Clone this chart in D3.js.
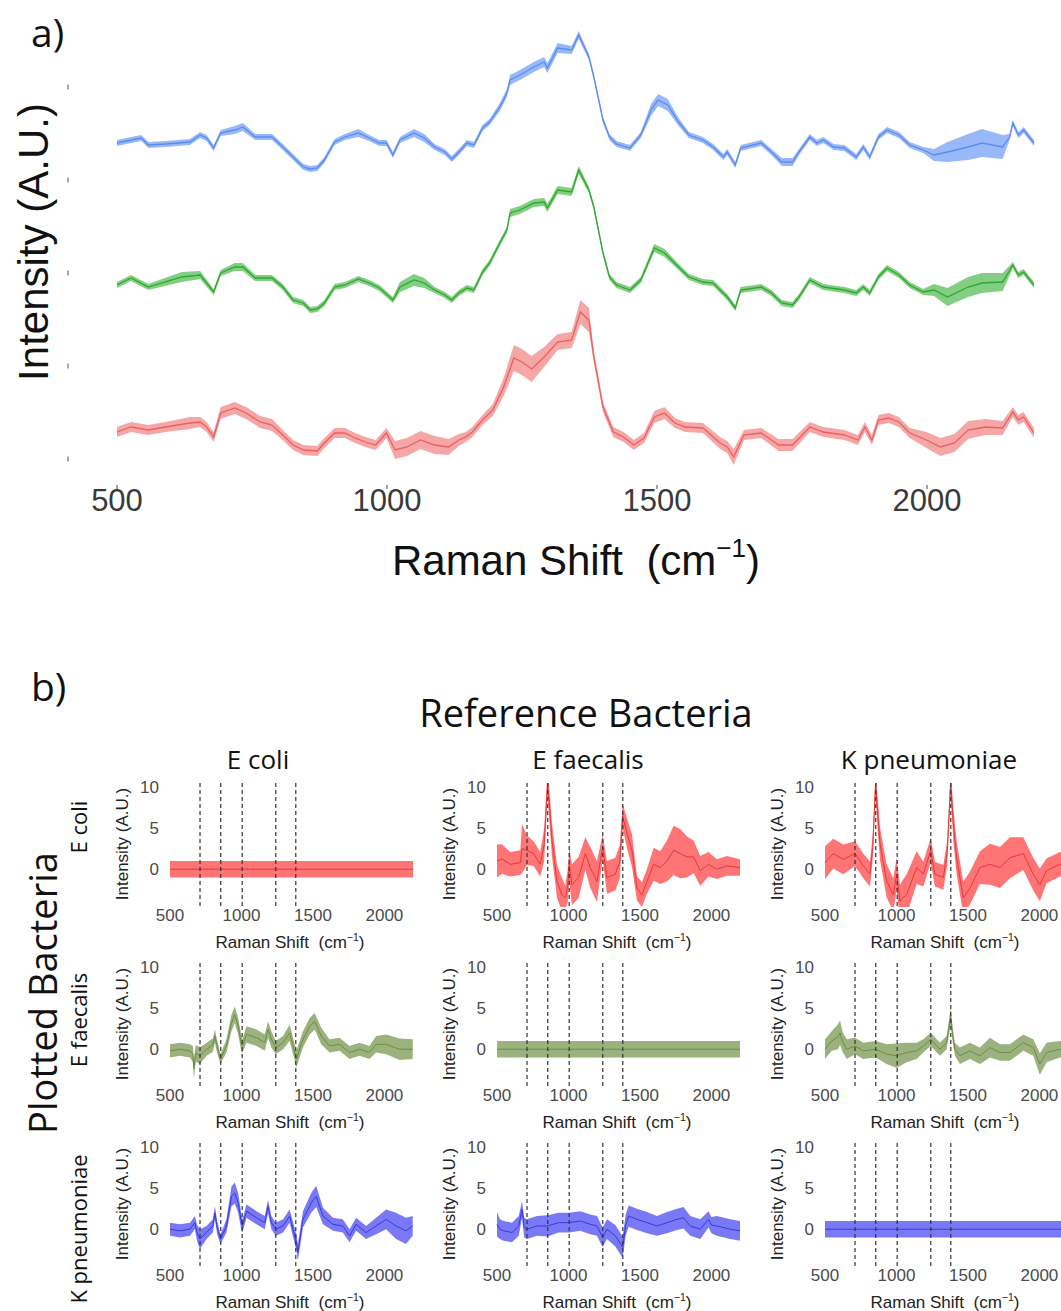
<!DOCTYPE html>
<html>
<head>
<meta charset="utf-8">
<script src="https://cdn.jsdelivr.net/npm/d3@7"></script>
<style>
  body { margin: 0; background: #fff; }
  svg { display: block; }
</style>
</head>
<body>
<svg id="chart" width="1061" height="1311"></svg>
<script>
// ---------- data ----------
// panel a: [raman shift, mean intensity (A.U.), half band width]
var kpnMean = [[500,316,3],[526,319,3],[545,321,3],[558,314,3],[590,315,3],[635,317,3],[654,324,3],[666,321,3],[679,311,3],[692,326,3],[718,329,4],[733,332,4],[756,322,3],[787,322,3],[807,312,3],[826,302,3],[845,292,3],[858,290,3],[871,291,3],[884,299,3],[903,317,3],[922,322,3],[947,326,4],[967,321,3],[986,316,3],[999,316,3],[1011,304,3],[1024,319,3],[1050,326,4],[1069,321,4],[1088,312,3],[1107,307,3],[1120,300,3],[1133,307,3],[1148,316,3],[1161,314,3],[1177,331,3],[1190,337,3],[1209,352,4],[1222,366,4],[1228,379,5],[1246,384,5],[1272,392,5],[1291,397,5],[1297,391,5],[1316,411,5],[1342,409,4],[1355,424,4],[1374,402,3],[1383,382,3],[1400,339,3],[1412,322,3],[1425,315,3],[1450,311,3],[1470,324,3],[1489,349,6],[1502,359,6],[1520,354,6],[1540,337,4],[1559,324,3],[1585,319,3],[1604,312,3],[1623,302,3],[1630,307,3],[1645,294,3],[1655,311,3],[1693,316,3],[1712,307,3],[1731,297,4],[1751,297,4],[1763,307,3],[1783,322,3],[1796,316,3],[1808,319,3],[1827,312,3],[1847,311,3],[1869,302,3],[1882,312,3],[1894,302,3],[1910,322,3],[1926,329,3],[1948,324,3],[1968,314,3],[1993,309,3],[2013,304,6],[2038,307,10],[2076,312,13],[2102,316,14],[2140,312,12],[2153,322,3],[2159,336,3],[2169,324,3],[2179,329,3],[2198,316,3]];

var faeMean = [[500,174,3],[526,181,3],[558,172,3],[620,182,5],[654,184,4],[679,167,3],[692,186,3],[718,192,4],[733,192,4],[756,181,3],[787,181,3],[807,172,3],[826,159,3],[845,156,3],[858,149,3],[871,150,3],[884,156,3],[903,172,3],[922,174,3],[947,180,3],[967,176,3],[986,171,3],[1011,159,3],[1024,172,5],[1050,179,6],[1069,176,5],[1088,169,3],[1107,164,3],[1120,159,3],[1133,166,3],[1148,171,3],[1161,169,3],[1177,187,3],[1190,196,3],[1209,216,3],[1222,229,3],[1228,246,4],[1246,249,4],[1272,256,4],[1291,257,4],[1297,251,4],[1316,269,4],[1342,267,4],[1355,289,4],[1374,269,3],[1383,252,3],[1400,206,3],[1412,182,3],[1425,174,3],[1450,169,3],[1470,179,3],[1495,211,4],[1514,206,4],[1540,192,3],[1559,182,3],[1585,177,3],[1604,176,3],[1630,162,3],[1645,151,3],[1655,169,3],[1693,172,3],[1712,166,3],[1731,156,3],[1751,154,3],[1763,162,3],[1783,179,3],[1808,172,3],[1847,169,3],[1869,166,3],[1882,172,3],[1894,166,3],[1910,182,3],[1926,191,3],[1948,184,3],[1968,174,3],[1993,167,3],[2013,169,6],[2038,162,9],[2076,172,10],[2102,176,10],[2140,177,9],[2159,194,3],[2169,184,3],[2179,187,3],[2198,174,3]];

var ecoMean = [[500,27,5],[526,32,5],[558,29,5],[590,32,5],[635,36,6],[654,37,5],[666,32,5],[679,22,5],[692,46,6],[718,51,6],[739,46,6],[765,37,6],[787,34,6],[807,24,5],[826,14,5],[845,9,5],[871,8,5],[884,16,5],[903,26,5],[922,26,5],[941,21,5],[960,17,5],[979,14,5],[999,26,5],[1015,9,9],[1037,12,9],[1062,19,9],[1088,14,9],[1114,12,8],[1133,19,6],[1146,22,5],[1158,27,5],[1177,39,5],[1196,49,6],[1216,72,9],[1235,101,13],[1250,97,13],[1268,90,13],[1291,102,10],[1316,117,8],[1342,119,8],[1358,147,12],[1374,139,12],[1383,102,6],[1400,52,5],[1419,27,5],[1438,22,5],[1457,14,5],[1476,21,5],[1495,42,6],[1514,46,6],[1533,36,5],[1552,32,5],[1585,31,5],[1617,16,6],[1630,12,6],[1642,2,8],[1661,24,5],[1693,26,5],[1725,14,6],[1751,14,6],[1783,32,5],[1808,27,5],[1847,24,5],[1872,19,5],[1885,32,5],[1898,19,5],[1910,39,5],[1929,41,5],[1948,37,5],[1968,26,5],[1999,19,8],[2025,12,9],[2051,16,9],[2076,29,9],[2108,32,8],[2140,31,7],[2159,47,5],[2169,39,5],[2179,42,5],[2198,26,5]];

var topXTicks = [500, 1000, 1500, 2000];
var topYTicks = [0, 93, 186, 279, 372];

// panel b: [raman shift, mean difference, half band width]
var flatSpectrum = [[500,0,1],[2200,0,1]];

var ecoVsFae = [[500,1.0,2.0],[535,1.25,1.8],[593,0.6,1.5],[663,0.8,1.5],[675,2.5,3.0],[710,2.3,1.8],[756,1.9,1.5],[803,0.6,1.5],[830,3.0,2.0],[854,10.6,1.5],[870,7.0,2.0],[885,3.5,2.0],[920,-1.5,2.0],[955,-3.1,2.0],[978,-3.5,1.5],[995,-2.0,2.0],[1006,0.6,2.0],[1024,-1.9,2.5],[1071,-1.0,2.5],[1118,1.9,2.0],[1153,0.2,2.5],[1199,-1.5,2.5],[1239,2.7,1.5],[1269,-1.0,2.0],[1328,-0.6,2.0],[1360,1.0,2.0],[1379,6.5,1.5],[1409,4.4,1.8],[1444,2.3,2.0],[1479,-2.3,1.5],[1514,-3.1,1.5],[1549,-1.5,1.5],[1596,0.6,2.0],[1642,0.2,2.0],[1689,1.0,2.5],[1736,2.3,3.0],[1782,1.9,3.0],[1829,1.5,2.5],[1876,1.5,2.0],[1922,-0.2,1.8],[1980,0.6,1.5],[2038,0.0,1.2],[2108,0.4,1.2],[2200,0.2,1.0]];

var ecoVsKpn = [[500,0.8,2.0],[558,1.9,1.8],[628,1.2,1.8],[710,1.9,1.5],[768,0.4,1.5],[815,-0.6,1.5],[835,3.0,1.5],[854,10.5,1.5],[870,6.5,2.0],[885,3.1,2.0],[931,-1.4,2.0],[978,-3.1,2.0],[1001,-0.6,2.0],[1024,-3.9,2.0],[1071,-3.1,2.5],[1141,0.2,2.0],[1188,-0.6,1.5],[1239,2.3,1.5],[1269,-0.6,1.5],[1328,-1.0,1.5],[1355,2.0,1.5],[1379,10.5,1.5],[1400,5.0,2.0],[1421,1.4,2.0],[1467,-3.5,2.0],[1514,-2.3,2.0],[1584,0.2,2.0],[1654,0.6,2.5],[1724,0.2,2.5],[1794,1.4,2.5],[1887,1.9,2.0],[1957,-0.6,2.0],[2003,-1.9,2.0],[2050,-0.2,1.5],[2143,0.6,1.5],[2200,0.5,1.2]];

var faeVsEco = [[500,-0.2,0.8],[570,0.0,0.8],[640,-0.2,0.8],[660,-0.6,1.0],[667,-2.4,1.2],[680,-0.5,1.0],[709,-0.8,1.0],[756,0.0,0.8],[800,0.5,0.8],[814,1.6,0.8],[830,0.3,0.8],[853,-1.2,0.6],[895,0.4,0.8],[930,3.2,1.0],[953,4.2,1.0],[977,2.8,1.0],[1000,0.6,1.0],[1007,0.4,0.8],[1035,1.8,1.0],[1105,1.4,1.0],[1163,0.8,1.0],[1186,2.4,1.0],[1209,1.2,1.0],[1240,0.2,0.8],[1291,0.8,0.8],[1337,2.0,1.0],[1384,-1.2,1.0],[1430,1.2,1.0],[1477,2.8,1.0],[1512,3.4,1.0],[1558,1.6,1.0],[1616,0.4,0.8],[1686,0.6,0.8],[1756,-0.4,0.8],[1826,0.0,0.8],[1895,-0.4,0.8],[1942,0.6,1.0],[2012,0.6,1.2],[2105,0.0,1.3],[2198,0.0,1.2]];

var faeVsKpn = [[500,0.0,1.2],[547,1.0,1.2],[590,1.5,1.5],[605,2.0,1.5],[625,0.8,1.2],[652,0.0,1.2],[710,0.4,1.0],[768,-0.2,1.0],[854,0.0,1.0],[931,-0.6,1.2],[1001,-0.8,1.5],[1071,-0.4,1.2],[1141,-0.2,1.0],[1188,0.4,0.8],[1239,1.2,0.8],[1304,0.0,0.8],[1351,0.8,0.8],[1379,4.0,1.0],[1395,1.5,0.8],[1409,0.0,0.8],[1444,-0.8,1.0],[1514,-0.2,1.0],[1584,-0.8,1.0],[1654,0.2,1.2],[1724,-0.4,1.0],[1794,-0.4,1.0],[1887,0.8,1.0],[1957,0.2,1.0],[2003,-1.8,1.3],[2050,-0.4,1.2],[2143,0.0,1.0],[2200,0.0,1.0]];

var kpnVsEco = [[500,0.0,0.8],[570,-0.2,0.8],[640,0.0,0.8],[674,0.8,0.8],[690,-0.5,1.0],[709,-1.2,1.2],[756,-0.4,0.8],[800,0.4,0.8],[814,2.0,0.8],[830,0.2,0.8],[853,-1.2,0.6],[895,0.4,0.8],[930,4.0,1.2],[953,4.4,1.3],[977,3.2,1.2],[1000,0.8,1.0],[1007,0.4,0.8],[1035,2.2,0.8],[1105,1.4,0.8],[1163,0.8,0.8],[1186,2.8,0.8],[1209,0.8,0.8],[1240,0.0,0.8],[1291,0.4,0.8],[1337,1.6,0.8],[1384,-1.6,1.0],[1395,-2.8,1.0],[1430,1.2,1.0],[1488,3.2,1.2],[1523,4.0,1.3],[1570,1.6,1.0],[1640,0.6,0.8],[1709,0.4,0.8],[1756,-0.8,0.8],[1802,0.6,0.8],[1872,-0.4,0.8],[1942,0.4,1.0],[2012,1.2,1.2],[2081,0.4,1.6],[2151,-0.2,1.6],[2198,0.4,1.2]];

var kpnVsFae = [[500,0.6,1.5],[520,0.0,1.2],[547,-0.2,1.2],[605,-0.4,1.2],[652,0.4,1.2],[675,2.4,1.0],[690,0.2,1.2],[710,0.0,1.2],[780,0.4,1.2],[854,0.4,1.3],[931,0.8,1.2],[1006,0.8,1.2],[1083,1.0,1.2],[1153,0.6,1.2],[1199,0.4,1.2],[1239,-1.0,1.2],[1269,0.0,1.2],[1328,-0.8,1.3],[1379,-2.2,1.3],[1400,0.5,1.3],[1421,1.6,1.3],[1479,1.2,1.3],[1549,0.8,1.3],[1619,0.4,1.2],[1689,0.8,1.3],[1759,1.2,1.3],[1805,1.4,1.3],[1852,0.4,1.2],[1922,0.0,1.2],[1980,1.2,1.0],[2000,0.5,1.0],[2038,0.4,1.2],[2131,0.0,1.2],[2200,-0.2,1.2]];

var bacteria = ["E coli", "E faecalis", "K pneumoniae"];
var peakLines = [710, 855, 1005, 1240, 1380];
var smallXTicks = [500, 1000, 1500, 2000];
var smallYTicks = [0, 5, 10];

// grid of panels: rows = plotted bacteria, columns = reference bacteria
var panelData = [
  [flatSpectrum, ecoVsFae, ecoVsKpn],
  [faeVsEco, flatSpectrum, faeVsKpn],
  [kpnVsEco, kpnVsFae, flatSpectrum]
];

var svg = d3.select("#chart");
var sansFont = "'Liberation Sans', Arial, sans-serif";
var titleFont = "'Open Sans', 'Noto Sans', sans-serif";

function bandArea(x, y) {
  return d3.area()
    .x(function(d) { return x(d[0]); })
    .y0(function(d) { return y(d[1] - d[2]); })
    .y1(function(d) { return y(d[1] + d[2]); });
}

function meanLine(x, y) {
  return d3.line()
    .x(function(d) { return x(d[0]); })
    .y(function(d) { return y(d[1]); });
}

function ramanTitle(g, x, y, size) {
  var t = g.append("text")
    .attr("x", x).attr("y", y)
    .attr("text-anchor", "middle")
    .style("font-family", sansFont)
    .style("font-size", size + "px")
    .style("fill", "#111");
  t.append("tspan").text("Raman Shift\u00a0\u00a0(cm");
  t.append("tspan").attr("dy", -size * 0.42).style("font-size", (size * 0.62) + "px").text("\u22121");
  t.append("tspan").attr("dy", size * 0.42).text(")");
  return t;
}

// ---------- panel a ----------
var xTop = d3.scaleLinear().domain([500, 2200]).range([117, 1035]);
var yTop = d3.scaleLinear().domain([0, 372]).range([459, 87]);

var topSeries = [
  { data: kpnMean, line: "#5a8cf0", band: "#86abf6" },
  { data: faeMean, line: "#2fa82f", band: "#6cc66c" },
  { data: ecoMean, line: "#ec6060", band: "#f39696" }
];

var gTop = svg.append("g");

topSeries.forEach(function(s) {
  gTop.append("path").datum(s.data)
    .attr("d", bandArea(xTop, yTop))
    .attr("fill", s.band)
    .attr("opacity", 0.85);
  gTop.append("path").datum(s.data)
    .attr("d", meanLine(xTop, yTop))
    .attr("fill", "none")
    .attr("stroke", s.line)
    .attr("stroke-width", 1.3);
});

// tiny tick marks on the left, no labels
gTop.selectAll(".ytick").data(topYTicks).enter().append("line")
  .attr("x1", 68).attr("x2", 68)
  .attr("y1", function(d) { return yTop(d) - 2.5; })
  .attr("y2", function(d) { return yTop(d) + 2.5; })
  .attr("stroke", "#555").attr("stroke-width", 1);

gTop.selectAll(".xtick").data(topXTicks).enter().append("line")
  .attr("x1", function(d) { return xTop(d); })
  .attr("x2", function(d) { return xTop(d); })
  .attr("y1", 485).attr("y2", 489)
  .attr("stroke", "#444").attr("stroke-width", 1);

gTop.selectAll(".xlab").data(topXTicks).enter().append("text")
  .attr("x", function(d) { return xTop(d); })
  .attr("y", 511)
  .attr("text-anchor", "middle")
  .style("font-family", sansFont)
  .style("font-size", "31px")
  .style("fill", "#3a3a3a")
  .text(function(d) { return d; });

ramanTitle(gTop, 576, 575, 42);

gTop.append("text")
  .attr("transform", "translate(48,242) rotate(-90)")
  .attr("text-anchor", "middle")
  .style("font-family", sansFont)
  .style("font-size", "42px")
  .style("fill", "#111")
  .text("Intensity (A.U.)");

svg.append("text")
  .attr("x", 31).attr("y", 47)
  .style("font-family", titleFont)
  .style("font-size", "39px")
  .style("fill", "#111")
  .text("a)");

// ---------- panel b ----------
var colX = [170, 497, 825];
var panelW = 243;
var rowTop = [783, 963, 1143];
var panelH = 124;

var lineColors = ["#e8383a", "#6e8c46", "#3838e0"];
var bandColors = ["#ff5c5c", "#8aa567", "#6262f4"];

svg.append("text")
  .attr("x", 31).attr("y", 701)
  .style("font-family", titleFont)
  .style("font-size", "39px")
  .style("fill", "#111")
  .text("b)");

svg.append("text")
  .attr("x", 586).attr("y", 727)
  .attr("text-anchor", "middle")
  .style("font-family", titleFont)
  .style("font-size", "38px")
  .style("fill", "#111")
  .text("Reference Bacteria");

svg.append("text")
  .attr("transform", "translate(57,993) rotate(-90)")
  .attr("text-anchor", "middle")
  .style("font-family", titleFont)
  .style("font-size", "38px")
  .style("fill", "#111")
  .text("Plotted Bacteria");

var colTitleX = [258, 588, 929];
var rowLabelY = [827, 1020, 1229];
bacteria.forEach(function(name, i) {
  svg.append("text")
    .attr("x", colTitleX[i])
    .attr("y", 769)
    .attr("text-anchor", "middle")
    .style("font-family", titleFont)
    .style("font-size", "26px")
    .style("fill", "#111")
    .text(name);
  svg.append("text")
    .attr("transform", "translate(87," + rowLabelY[i] + ") rotate(-90)")
    .attr("text-anchor", "middle")
    .style("font-family", titleFont)
    .style("font-size", "22px")
    .style("fill", "#111")
    .text(name);
});

var defs = svg.append("defs");

panelData.forEach(function(row, r) {
  row.forEach(function(series, c) {
    var x = d3.scaleLinear().domain([500, 2200]).range([colX[c], colX[c] + panelW]);
    var y = d3.scaleLinear().domain([-4.6, 10.5]).range([rowTop[r] + panelH, rowTop[r]]);
    var clipId = "clip" + r + c;

    defs.append("clipPath").attr("id", clipId)
      .append("rect")
      .attr("x", colX[c] - 2).attr("y", rowTop[r])
      .attr("width", panelW + 4).attr("height", panelH);

    var g = svg.append("g");
    var plot = g.append("g").attr("clip-path", "url(#" + clipId + ")");

    plot.append("path").datum(series)
      .attr("d", bandArea(x, y))
      .attr("fill", bandColors[r])
      .attr("opacity", 0.85);
    plot.append("path").datum(series)
      .attr("d", meanLine(x, y))
      .attr("fill", "none")
      .attr("stroke", lineColors[r])
      .attr("stroke-width", 1);

    g.selectAll(".peak").data(peakLines).enter().append("line")
      .attr("x1", function(d) { return x(d); })
      .attr("x2", function(d) { return x(d); })
      .attr("y1", rowTop[r]).attr("y2", rowTop[r] + panelH)
      .attr("stroke", "#333")
      .attr("stroke-width", 1.2)
      .attr("stroke-dasharray", "4,3");

    g.selectAll(".xlab").data(smallXTicks).enter().append("text")
      .attr("x", function(d) { return x(d); })
      .attr("y", rowTop[r] + panelH + 14)
      .attr("text-anchor", "middle")
      .style("font-family", sansFont)
      .style("font-size", "17px")
      .style("fill", "#4a4a4a")
      .text(function(d) { return d; });

    g.selectAll(".ylab").data(smallYTicks).enter().append("text")
      .attr("x", colX[c] - 11)
      .attr("y", function(d) { return y(d) + 6; })
      .attr("text-anchor", "end")
      .style("font-family", sansFont)
      .style("font-size", "17px")
      .style("fill", "#4a4a4a")
      .text(function(d) { return d; });

    g.append("text")
      .attr("transform", "translate(" + (colX[c] - 42) + "," + (rowTop[r] + 61) + ") rotate(-90)")
      .attr("text-anchor", "middle")
      .style("font-family", sansFont)
      .style("font-size", "17px")
      .style("fill", "#222")
      .text("Intensity (A.U.)");

    ramanTitle(g, colX[c] + 120, rowTop[r] + panelH + 41, 17).style("fill", "#222");
  });
});
</script>
</body>
</html>
